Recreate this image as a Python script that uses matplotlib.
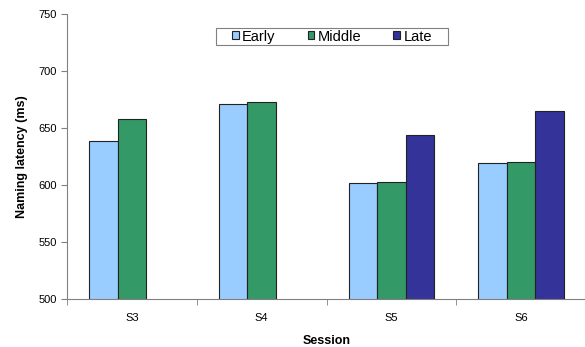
import numpy as np
import matplotlib.pyplot as plt
from matplotlib.patches import Patch, Rectangle

plt.rcParams['font.family'] = ['Liberation Sans', 'DejaVu Sans']

sessions = ['S3', 'S4', 'S5', 'S6']
early = [639, 671, 602, 619]
middle = [657.5, 672.5, 603, 620.5]
late = [np.nan, np.nan, 643.5, 665]

series = [('Early', early, '#99CCFF'),
          ('Middle', middle, '#339966'),
          ('Late', late, '#333399')]

fig = plt.figure(figsize=[5.85, 3.47], dpi=100)
ax = fig.add_axes([67 / 585, 48 / 347, 519 / 585, 285 / 347])

x = np.arange(len(sessions))
w = 0.22
for k, (name, vals, col) in enumerate(series):
    ax.bar(x + (k - 1) * w, vals, width=w, color=col, edgecolor='#222222',
           linewidth=0.8, label=name)

ax.set_ylim(500, 750)
ax.set_xlim(-0.5, 3.5)
ax.set_yticks(np.arange(500, 751, 50))
ax.set_xticks(x)
ax.set_xticklabels(sessions)
ax.set_xticks(np.arange(-0.5, 3.6, 1), minor=True)
ax.tick_params(axis='x', which='major', length=0, pad=10, labelsize=8)
ax.tick_params(axis='x', which='minor', length=4, color='#808080', direction='out')
ax.tick_params(axis='y', length=4, color='#808080', labelsize=8, pad=3)

for s in ['top', 'right']:
    ax.spines[s].set_visible(False)
for s in ['left', 'bottom']:
    ax.spines[s].set_color('#808080')
    ax.spines[s].set_linewidth(0.8)

ax.set_ylabel('Naming latency (ms)', fontsize=9, fontweight='bold', labelpad=8)
ax.set_xlabel('Session', fontsize=9, fontweight='bold', labelpad=9)

# legend without its own frame, box drawn separately (wide side padding like Excel)
handles = [Patch(facecolor=c, edgecolor='#222222', linewidth=0.8, label=n) for n, v, c in series]
ax.legend(handles=handles, ncol=3, loc='center', bbox_to_anchor=(0.5106, 0.921),
          frameon=False, fontsize=10.5, handlelength=0.43, handleheight=0.43,
          handletextpad=0.25, columnspacing=2.2, borderpad=0.2)
ax.add_patch(Rectangle((0.2865, 0.891), 0.4475, 0.06, transform=ax.transAxes,
                       facecolor='white', edgecolor='#808080', linewidth=0.8, zorder=4))
ax.get_legend().set_zorder(5)

fig.savefig('out.png', dpi=100)
